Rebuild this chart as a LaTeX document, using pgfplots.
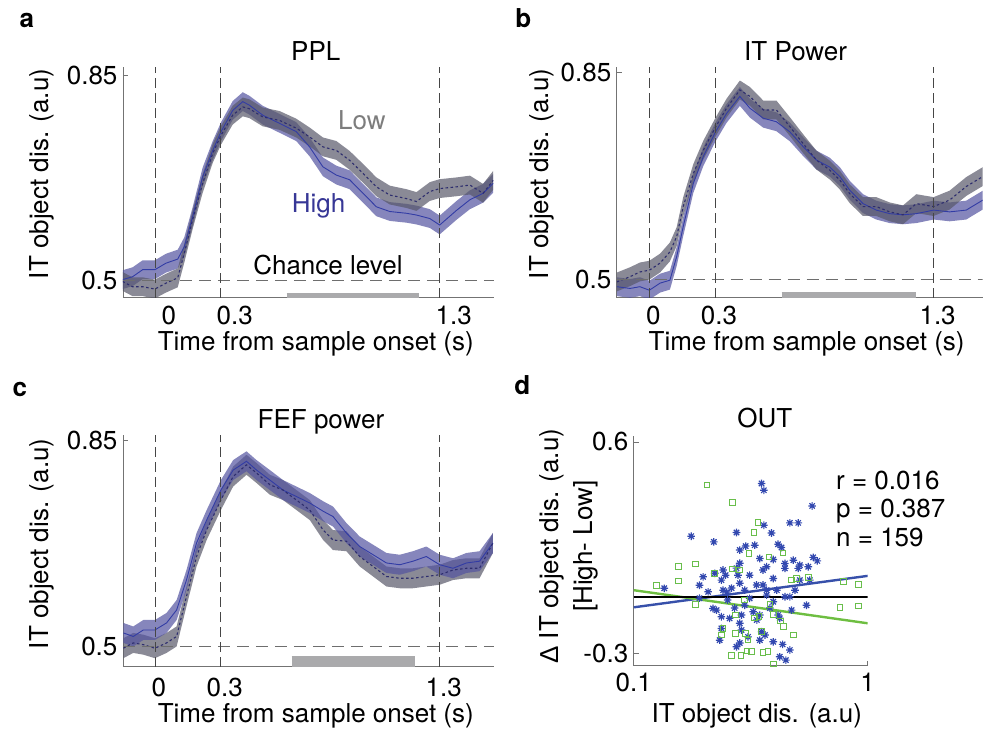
\documentclass[border=0pt]{standalone}
\usepackage{fontspec}
\setmainfont{TeX Gyre Heros}
\newfontfamily\lib{Liberation Sans}
\usepackage{pgfplots}
\usepackage{pgfplotstable}
\pgfplotsset{compat=1.18}
\usepgfplotslibrary{fillbetween}

\definecolor{axgray}{RGB}{115,115,115}
\definecolor{hiband}{RGB}{83,83,159}
\definecolor{loband}{RGB}{88,88,105}
\definecolor{hiline}{RGB}{50,60,165}
\definecolor{loline}{RGB}{45,45,110}
\definecolor{dashgray}{RGB}{70,70,70}
\definecolor{hdash}{RGB}{110,110,110}
\definecolor{bargray}{RGB}{170,170,172}
\definecolor{sblue}{RGB}{50,72,175}
\definecolor{sgreen}{RGB}{105,190,75}
\definecolor{lblue}{RGB}{55,80,170}
\definecolor{lgreen}{RGB}{110,190,65}
\definecolor{txtblue}{RGB}{55,55,150}
\definecolor{txtgray}{RGB}{125,125,125}

\newcommand\fs{\fontsize{26}{31}\selectfont}

\pgfdeclareplotmark{ast8}{%
  \pgfpathmoveto{\pgfqpoint{-\pgfplotmarksize}{0pt}}%
  \pgfpathlineto{\pgfqpoint{\pgfplotmarksize}{0pt}}%
  \pgfpathmoveto{\pgfqpoint{0pt}{-\pgfplotmarksize}}%
  \pgfpathlineto{\pgfqpoint{0pt}{\pgfplotmarksize}}%
  \pgfpathmoveto{\pgfqpoint{-0.707\pgfplotmarksize}{-0.707\pgfplotmarksize}}%
  \pgfpathlineto{\pgfqpoint{0.707\pgfplotmarksize}{0.707\pgfplotmarksize}}%
  \pgfpathmoveto{\pgfqpoint{-0.707\pgfplotmarksize}{0.707\pgfplotmarksize}}%
  \pgfpathlineto{\pgfqpoint{0.707\pgfplotmarksize}{-0.707\pgfplotmarksize}}%
  \pgfusepathqstroke}

\pgfplotstableread{
t hi lo e
-0.148 0.502 0.499 0.016
-0.102 0.507 0.490 0.016
-0.056 0.519 0.490 0.016
0.000 0.519 0.486 0.016
0.050 0.530 0.496 0.016
0.104 0.537 0.505 0.016
0.134 0.558 0.547 0.016
0.172 0.609 0.604 0.016
0.218 0.677 0.666 0.016
0.264 0.722 0.717 0.016
0.302 0.754 0.748 0.016
0.355 0.790 0.782 0.016
0.401 0.805 0.796 0.016
0.431 0.799 0.793 0.016
0.492 0.782 0.779 0.016
0.569 0.768 0.773 0.016
0.645 0.754 0.760 0.016
0.706 0.728 0.745 0.016
0.767 0.694 0.728 0.016
0.828 0.680 0.722 0.016
0.889 0.672 0.705 0.016
0.950 0.649 0.683 0.016
1.011 0.626 0.660 0.016
1.072 0.618 0.646 0.016
1.148 0.615 0.640 0.016
1.194 0.612 0.635 0.016
1.255 0.606 0.652 0.016
1.300 0.595 0.657 0.016
1.377 0.620 0.660 0.016
1.438 0.638 0.663 0.016
1.498 0.649 0.649 0.016
1.544 0.666 0.671 0.016
}\dataA

\pgfplotstableread{
t hi lo e
-0.149 0.487 0.495 0.016
-0.088 0.484 0.504 0.016
-0.043 0.487 0.512 0.016
0.000 0.481 0.515 0.016
0.049 0.493 0.527 0.016
0.094 0.498 0.546 0.016
0.125 0.538 0.572 0.016
0.155 0.589 0.623 0.016
0.201 0.662 0.679 0.016
0.247 0.708 0.719 0.016
0.303 0.750 0.758 0.016
0.353 0.781 0.790 0.016
0.414 0.810 0.821 0.016
0.460 0.790 0.810 0.016
0.521 0.773 0.787 0.016
0.581 0.767 0.787 0.016
0.642 0.750 0.759 0.016
0.703 0.725 0.730 0.016
0.764 0.702 0.702 0.016
0.825 0.690 0.685 0.016
0.871 0.674 0.668 0.016
0.916 0.651 0.645 0.016
0.977 0.628 0.623 0.016
1.038 0.617 0.623 0.016
1.099 0.611 0.614 0.016
1.160 0.609 0.609 0.016
1.221 0.611 0.628 0.016
1.300 0.617 0.623 0.016
1.373 0.614 0.634 0.016
1.449 0.617 0.657 0.016
1.525 0.634 0.674 0.016
}\dataB

\pgfplotstableread{
t hi lo e
-0.144 0.523 0.497 0.017
-0.099 0.517 0.506 0.017
-0.053 0.528 0.503 0.017
0.000 0.528 0.497 0.017
0.053 0.540 0.506 0.017
0.099 0.562 0.517 0.017
0.144 0.613 0.585 0.017
0.190 0.676 0.653 0.017
0.236 0.715 0.698 0.017
0.301 0.766 0.749 0.017
0.357 0.800 0.789 0.017
0.418 0.815 0.809 0.017
0.464 0.800 0.795 0.017
0.525 0.783 0.775 0.017
0.585 0.766 0.766 0.017
0.646 0.755 0.749 0.017
0.707 0.744 0.732 0.017
0.768 0.730 0.698 0.017
0.813 0.721 0.681 0.017
0.874 0.693 0.679 0.017
0.935 0.670 0.653 0.017
0.996 0.656 0.636 0.017
1.057 0.642 0.619 0.017
1.118 0.639 0.616 0.017
1.178 0.645 0.616 0.017
1.239 0.653 0.619 0.017
1.300 0.639 0.622 0.017
1.361 0.633 0.630 0.017
1.422 0.642 0.633 0.017
1.482 0.645 0.633 0.017
1.543 0.676 0.676 0.017
}\dataC

\pgfplotstableread{
x y
0.352 0.423
0.360 0.394
0.579 0.327
0.465 0.255
0.505 0.255
0.360 0.245
0.388 0.212
0.176 0.198
0.275 0.214
0.220 0.174
0.414 0.164
0.428 0.150
0.284 0.139
0.301 0.156
0.329 0.160
0.346 0.103
0.395 0.099
0.481 0.096
0.443 0.082
0.513 0.075
0.557 0.068
0.585 0.108
0.609 0.093
0.284 0.083
0.370 0.068
0.357 0.054
0.395 0.018
0.443 0.061
0.505 0.061
0.135 -0.024
0.198 0.025
0.208 -0.039
0.222 0.040
0.237 0.011
0.241 -0.032
0.250 -0.040
0.262 -0.023
0.279 0.032
0.284 -0.002
0.275 0.062
0.218 -0.110
0.226 -0.117
0.237 -0.145
0.257 -0.152
0.289 -0.138
0.284 -0.173
0.237 -0.195
0.289 -0.202
0.308 -0.231
0.233 -0.245
0.275 -0.273
0.284 -0.257
0.346 -0.245
0.352 -0.209
0.313 -0.067
0.335 -0.010
0.357 -0.010
0.370 -0.053
0.324 -0.124
0.346 -0.138
0.370 -0.032
0.443 -0.060
0.465 -0.060
0.395 -0.081
0.548 -0.096
0.473 -0.117
0.414 -0.138
0.421 -0.152
0.364 -0.223
0.395 -0.252
0.433 -0.263
0.465 -0.287
0.421 -0.316
0.447 -0.330
0.298 -0.032
0.252 -0.074
0.191 -0.011
0.313 0.032
0.489 -0.032
0.382 -0.108
0.270 -0.108
0.298 -0.096
0.336 -0.159
0.566 0.011
0.513 0.011
0.409 -0.032
0.191 -0.066
0.247 0.032
0.241 0.054
}\dataBlue

\pgfplotstableread{
x y
0.206 0.417
0.264 0.342
0.340 0.257
0.327 0.215
0.311 0.125
0.184 0.079
0.155 0.068
0.264 0.058
0.378 0.109
0.435 0.127
0.155 0.007
0.184 -0.093
0.222 0.040
0.284 0.054
0.273 -0.138
0.241 -0.195
0.237 -0.223
0.273 -0.216
0.301 -0.216
0.308 -0.245
0.262 -0.311
0.287 -0.311
0.305 -0.291
0.319 -0.294
0.357 -0.297
0.375 -0.294
0.352 -0.209
0.343 -0.145
0.473 0.011
0.497 0.018
0.557 0.021
0.787 0.004
0.912 -0.007
0.761 -0.107
0.912 -0.100
0.382 -0.093
0.395 -0.135
0.424 -0.164
0.438 -0.188
0.481 -0.223
0.397 -0.346
0.125 -0.013
0.298 -0.074
0.329 -0.151
}\dataGreen

\pgfplotsset{
  base/.style={scale only axis, axis x line*=bottom, axis y line*=left,
    axis line style={draw=axgray, line width=0.8pt, -},
    tick align=inside, major tick length=5pt,
    every tick/.style={draw=axgray, line width=0.8pt},
    ticklabel style={font=\fs},
    label style={font=\fs},
    title style={font=\fs, anchor=base},
    yticklabel style={xshift=-2pt},
  },
  tc/.style={base, xtick={0,0.3,1.3}, xticklabels={0,0.3,1.3},
    ytick={0.5,0.85}, yticklabels={0.5,0.85},
    xlabel={Time from sample onset (s)}, ylabel={IT object dis. (a.u)},
  },
  band/.style={draw=none, forget plot},
  hib/.style={fill=hiband, fill opacity=0.7, draw=none},
  lob/.style={fill=loband, fill opacity=0.7, draw=none},
  hil/.style={hiline, line width=0.9pt},
  lol/.style={loline, line width=1.1pt, dash pattern=on 2.5pt off 2.5pt},
  vdash/.style={dashgray, line width=0.8pt, dash pattern=on 10pt off 5pt},
  hdsh/.style={hdash, line width=0.8pt, dash pattern=on 12pt off 7pt},
}

\begin{document}
\begin{tikzpicture}

% ---------------- panel a ----------------
\begin{axis}[tc, at={(123pt,433pt)}, anchor=south west, width=371pt, height=231pt,
  xmin=-0.146, xmax=1.547, ymin=0.471, ymax=0.864,
  xticklabel style={xshift=14pt, yshift=-5pt},
  xlabel style={at={([yshift=-53pt]axis description cs:0.52,0)}, anchor=base},
  ylabel style={at={([xshift=-74.6pt]axis description cs:0,0.537)}, anchor=base},
  title={PPL}, title style={at={(axis description cs:0.52,1)}}]
\addplot[name path=ahu, band] table[x=t, y expr=\thisrow{hi}+\thisrow{e}] {\dataA};
\addplot[name path=ahl, band] table[x=t, y expr=\thisrow{hi}-\thisrow{e}] {\dataA};
\addplot[name path=alu, band] table[x=t, y expr=\thisrow{lo}+\thisrow{e}] {\dataA};
\addplot[name path=all, band] table[x=t, y expr=\thisrow{lo}-\thisrow{e}] {\dataA};
\addplot[hib] fill between[of=ahu and ahl];
\addplot[lob] fill between[of=alu and all];
\addplot[hil] table[x=t, y=hi] {\dataA};
\addplot[lol] table[x=t, y=lo] {\dataA};
\addplot[bargray, line width=5.5pt] coordinates {(0.601,0.4754) (1.207,0.4754)};
\addplot[hdsh] coordinates {(-0.146,0.5) (1.547,0.5)};
\addplot[vdash] coordinates {(0,0.471) (0,0.864)};
\addplot[vdash] coordinates {(0.3,0.471) (0.3,0.864)};
\addplot[vdash] coordinates {(1.3,0.471) (1.3,0.864)};
\node[anchor=base, text=txtgray, font=\fs] at (axis cs:0.945,0.757) {Low};
\node[anchor=base, text=txtblue, font=\fs] at (axis cs:0.747,0.617) {High};
\node[anchor=base, font=\fs] at (axis cs:0.790,0.510) {Chance level};
\end{axis}

% ---------------- panel b ----------------
\begin{axis}[tc, at={(617pt,433pt)}, anchor=south west, width=366pt, height=231pt,
  xmin=-0.149, xmax=1.524, ymin=0.468, ymax=0.860,
  xticklabel style={xshift=4pt, yshift=-5pt},
  xlabel style={at={([yshift=-53pt]axis description cs:0.519,0)}, anchor=base},
  ylabel style={at={([xshift=-68.6pt]axis description cs:0,0.537)}, anchor=base},
  title={IT Power}, title style={at={(axis description cs:0.489,1)}}]
\addplot[name path=bhu, band] table[x=t, y expr=\thisrow{hi}+\thisrow{e}] {\dataB};
\addplot[name path=bhl, band] table[x=t, y expr=\thisrow{hi}-\thisrow{e}] {\dataB};
\addplot[name path=blu, band] table[x=t, y expr=\thisrow{lo}+\thisrow{e}] {\dataB};
\addplot[name path=bll, band] table[x=t, y expr=\thisrow{lo}-\thisrow{e}] {\dataB};
\addplot[hib] fill between[of=bhu and bhl];
\addplot[lob] fill between[of=blu and bll];
\addplot[hil] table[x=t, y=hi] {\dataB};
\addplot[lol] table[x=t, y=lo] {\dataB};
\addplot[bargray, line width=6pt] coordinates {(0.605,0.473) (1.22,0.473)};
\addplot[hdsh] coordinates {(-0.149,0.5) (1.524,0.5)};
\addplot[vdash] coordinates {(0,0.468) (0,0.860)};
\addplot[vdash] coordinates {(0.3,0.468) (0.3,0.860)};
\addplot[vdash] coordinates {(1.3,0.468) (1.3,0.860)};
\end{axis}

% ---------------- panel c ----------------
\begin{axis}[tc, at={(123pt,64pt)}, anchor=south west, width=371pt, height=232pt,
  xmin=-0.146, xmax=1.547, ymin=0.4655, ymax=0.860,
  xticklabel style={xshift=4pt, yshift=-8pt},
  xlabel style={at={([yshift=-56pt]axis description cs:0.52,0)}, anchor=base},
  ylabel style={at={([xshift=-74.6pt]axis description cs:0,0.530)}, anchor=base},
  title={FEF power}, title style={at={(axis description cs:0.534,1)}}]
\addplot[name path=chu, band] table[x=t, y expr=\thisrow{hi}+\thisrow{e}] {\dataC};
\addplot[name path=chl, band] table[x=t, y expr=\thisrow{hi}-\thisrow{e}] {\dataC};
\addplot[name path=clu, band] table[x=t, y expr=\thisrow{lo}+\thisrow{e}] {\dataC};
\addplot[name path=cll, band] table[x=t, y expr=\thisrow{lo}-\thisrow{e}] {\dataC};
\addplot[lob] fill between[of=clu and cll];
\addplot[hib] fill between[of=chu and chl];
\addplot[hil] table[x=t, y=hi] {\dataC};
\addplot[lol] table[x=t, y=lo] {\dataC};
\addplot[bargray, line width=11pt] coordinates {(0.624,0.4748) (1.187,0.4748)};
\addplot[hdsh] coordinates {(-0.146,0.5) (1.547,0.5)};
\addplot[vdash] coordinates {(0,0.4655) (0,0.860)};
\addplot[vdash] coordinates {(0.3,0.4655) (0.3,0.860)};
\addplot[vdash] coordinates {(1.3,0.4655) (1.3,0.860)};
\end{axis}

% ---------------- panel d ----------------
\begin{axis}[base, at={(634pt,65pt)}, anchor=south west, width=234pt, height=230pt,
  xmode=log, xmin=0.1, xmax=1, ymin=-0.354, ymax=0.626,
  xminorticks=false,
  xtick={0.1,1}, xticklabels={0.1,1}, ytick={-0.3,0.6}, yticklabels={-0.3,0.6},
  xticklabel style={yshift=-4pt},
  xlabel={IT object dis. (a.u)},
  xlabel style={at={([yshift=-57pt]axis description cs:0.526,0)}, anchor=base},
  ylabel={{\lib Δ} IT object dis. (a.u)\\{[High- Low]}},
  ylabel style={at={([xshift=-65pt]axis description cs:0,0.52)}, anchor=center, align=center, font=\fontsize{26}{34.6}\selectfont},
  title={OUT}, title style={at={([yshift=2pt]axis description cs:0.56,1)}}]
\addplot[only marks, mark=ast8, mark size=3.8pt, sblue, mark options={line width=1.2pt}] table[x=x, y=y] {\dataBlue};
\addplot[only marks, mark=square, mark size=2.8pt, sgreen, mark options={line width=1pt}] table[x=x, y=y] {\dataGreen};
\addplot[lblue, line width=2.4pt] coordinates {(0.1,-0.105) (1,0.029)};
\addplot[lgreen, line width=2.4pt] coordinates {(0.1,-0.032) (1,-0.173)};
\addplot[black, line width=2.4pt] coordinates {(0.1,-0.061) (1,-0.061)};
\end{axis}

% annotations and panel letters
\node[anchor=base west, font=\fs] at (833pt,241pt) {r = 0.016};
\node[anchor=base west, font=\fs] at (833pt,213pt) {p = 0.387};
\node[anchor=base west, font=\fs] at (833pt,184.3pt) {n = 159};

\node[anchor=base west, font=\fs\bfseries] at (16pt,703pt) {a};
\node[anchor=base west, font=\fs\bfseries] at (512pt,703pt) {b};
\node[anchor=base west, font=\fs\bfseries] at (9pt,334pt) {c};
\node[anchor=base west, font=\fs\bfseries] at (511pt,336pt) {d};

\path (0,0) rectangle (983pt,731pt);
\end{tikzpicture}
\end{document}
